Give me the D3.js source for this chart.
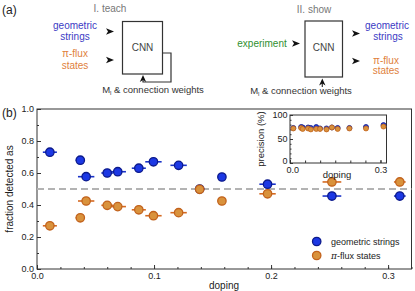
<!DOCTYPE html>
<html>
<head>
<meta charset="utf-8">
<script src="https://cdn.jsdelivr.net/npm/d3@7"></script>
<style>
  body { margin: 0; background: #fff; }
  svg { font-family: "Liberation Sans", Arial, sans-serif; }
  .axis text { font-size: 9px; fill: #222; }
  .axis line { stroke: #333; }
  .axis path { display: none; }
</style>
</head>
<body>
<svg id="chart" width="415" height="291"></svg>
<script>
// main panel data
const doping = [0.011, 0.037, 0.042, 0.060, 0.069, 0.087, 0.0995, 0.121, 0.139, 0.158, 0.197, 0.252, 0.310];
const dopingErr = [0.006, 0.004, 0.007, 0.005, 0.007, 0.006, 0.007, 0.007, 0.004, 0.003, 0.007, 0.008, 0.005];
const geomFrac = [0.73, 0.68, 0.577, 0.60, 0.608, 0.63, 0.67, 0.648, 0.50, 0.575, 0.53, 0.456, 0.456];
const fluxFrac = [0.27, 0.32, 0.425, 0.398, 0.39, 0.37, 0.333, 0.352, 0.498, 0.425, 0.47, 0.544, 0.544];

// inset data
const geomPrec = [73, 75, 74, 74, 73, 75, 72, 72, 74, 73, 73, 75, 79];
const fluxPrec = [72, 73, 71, 72, 70, 71, 71, 70, 74, 71, 72, 72, 76];

const yTicks = [0, 0.2, 0.4, 0.6, 0.8, 1.0];
const xTicks = [0, 0.1, 0.2, 0.3];
const insetYTicks = [0, 50, 100];
const insetXTicks = [0, 0.3];

const blue = { fill: "#1c38e4", stroke: "#0c1a8c", bar: "#1a33c8" };
const orange = { fill: "#d9923c", stroke: "#c2621c", bar: "#d56a22" };

const svg = d3.select("#chart");

// ---------- panel (a): schematic ----------
const a = svg.append("g");
const txt = (x, y, s, color, anchor) =>
  a.append("text").attr("x", x).attr("y", y).attr("text-anchor", anchor || "middle")
    .attr("font-size", 10).attr("fill", color).text(s);

a.append("text").attr("x", 2).attr("y", 14).attr("font-size", 12).attr("fill", "#222").text("(a)");

const arrowHead = (x, y, dir) => {
  // small filled chevron pointing right or up
  const p = dir === "up"
    ? `M${x},${y} L${x + 3.2},${y + 7} L${x},${y + 5} L${x - 3.2},${y + 7} Z`
    : `M${x},${y} L${x - 8},${y - 3.2} L${x - 6},${y} L${x - 8},${y + 3.2} Z`;
  a.append("path").attr("d", p).attr("fill", "#111");
};

// I. teach
txt(110, 12, "I. teach", "#777");
txt(75, 29, "geometric", "#3b3bc4");
txt(75, 40, "strings", "#3b3bc4");
txt(75, 57, "\u03c0-flux", "#e07f3c");
txt(75, 69, "states", "#e07f3c");
arrowHead(114, 31.5);
arrowHead(114, 60);
a.append("rect").attr("x", 122.5).attr("y", 21.5).attr("width", 40).attr("height", 52.5)
  .attr("fill", "none").attr("stroke", "#333").attr("stroke-width", 1.2);
txt(142.5, 51, "CNN", "#444");
a.append("path").attr("d", "M162.5,53 H171 V82 H143 V78")
  .attr("fill", "none").attr("stroke", "#333").attr("stroke-width", 1.2);
arrowHead(143, 75, "up");
const ml1 = a.append("text").attr("x", 153).attr("y", 93).attr("text-anchor", "middle")
  .attr("font-size", 9.5).attr("fill", "#333");
ml1.append("tspan").text("M");
ml1.append("tspan").attr("font-size", 6).attr("dy", 2).text("l");
ml1.append("tspan").attr("dy", -2).text(" & connection weights");

// II. show
txt(314, 13, "II. show", "#777");
txt(262, 47, "experiment", "#2f8f2f");
arrowHead(300, 43.5);
a.append("rect").attr("x", 305).attr("y", 21).attr("width", 37.5).attr("height", 56)
  .attr("fill", "none").attr("stroke", "#333").attr("stroke-width", 1.2);
txt(323.7, 51, "CNN", "#444");
arrowHead(360, 33.5);
arrowHead(360, 61);
txt(387, 29, "geometric", "#3b3bc4");
txt(388, 40, "strings", "#3b3bc4");
txt(386, 64, "\u03c0-flux", "#e07f3c");
txt(386, 74, "states", "#e07f3c");
a.append("line").attr("x1", 322.3).attr("x2", 322.3).attr("y1", 82).attr("y2", 87)
  .attr("stroke", "#333").attr("stroke-width", 1.2);
arrowHead(322.3, 78.5, "up");
const ml2 = a.append("text").attr("x", 301).attr("y", 94).attr("text-anchor", "middle")
  .attr("font-size", 9.5).attr("fill", "#333");
ml2.append("tspan").text("M");
ml2.append("tspan").attr("font-size", 6).attr("dy", 2).text("l");
ml2.append("tspan").attr("dy", -2).text(" & connection weights");

// ---------- panel (b): main plot ----------
const x = d3.scaleLinear().domain([0, 0.32]).range([37, 411.5]);
const y = d3.scaleLinear().domain([0, 1]).range([269, 109]);

svg.append("text").attr("x", 2).attr("y", 117).attr("font-size", 12).attr("fill", "#222").text("(b)");

svg.append("g").attr("class", "axis").attr("transform", `translate(${x(0)},0)`)
  .call(d3.axisLeft(y).tickValues(d3.range(0, 1.001, 0.1)).tickSize(-2).tickFormat(""));
svg.append("g").attr("class", "axis").attr("transform", `translate(${x(0)},0)`)
  .call(d3.axisLeft(y).tickValues(yTicks).tickSize(-4).tickFormat(d3.format(".1f")));
svg.append("g").attr("class", "axis").attr("transform", `translate(0,${y(0)})`)
  .call(d3.axisBottom(x).tickValues(d3.range(0, 0.321, 0.02)).tickSize(-2).tickFormat(""));
svg.append("g").attr("class", "axis").attr("transform", `translate(0,${y(0)})`)
  .call(d3.axisBottom(x).tickValues(xTicks).tickSize(-4).tickPadding(4).tickFormat(d3.format(".1f")));

svg.append("rect").attr("x", x(0)).attr("y", y(1))
  .attr("width", x(0.32) - x(0)).attr("height", y(0) - y(1))
  .attr("fill", "none").attr("stroke", "#333").attr("stroke-width", 1);

svg.append("text").attr("transform", `translate(13,${(y(0) + y(1)) / 2}) rotate(-90)`)
  .attr("text-anchor", "middle").attr("font-size", 10).attr("fill", "#222")
  .text("fraction detected as");
svg.append("text").attr("x", 224).attr("y", 289).attr("text-anchor", "middle")
  .attr("font-size", 10).attr("fill", "#222").text("doping");

svg.append("line").attr("x1", x(0)).attr("x2", x(0.32)).attr("y1", y(0.5)).attr("y2", y(0.5))
  .attr("stroke", "#b3b3b3").attr("stroke-width", 2).attr("stroke-dasharray", "7,4");

function drawSeries(g, xs, vals, errs, col, xs_, ys_, r) {
  if (errs) {
    g.selectAll(null).data(vals).enter().append("line")
      .attr("x1", (d, i) => xs_(xs[i] - errs[i])).attr("x2", (d, i) => xs_(xs[i] + errs[i]))
      .attr("y1", d => ys_(d)).attr("y2", d => ys_(d))
      .attr("stroke", col.bar).attr("stroke-width", 1.6);
  }
  g.selectAll(null).data(vals).enter().append("circle")
    .attr("cx", (d, i) => xs_(xs[i])).attr("cy", d => ys_(d)).attr("r", r)
    .attr("fill", col.fill).attr("stroke", col.stroke).attr("stroke-width", r > 3 ? 1.3 : 0.8);
}

const pts = svg.append("g");
drawSeries(pts, doping, geomFrac, dopingErr, blue, x, y, 4.2);
drawSeries(pts, doping, fluxFrac, dopingErr, orange, x, y, 4.2);

// legend
const legend = svg.append("g");
[["geometric strings", blue], ["\u03c0-flux states", orange]].forEach(([label, col], i) => {
  const ly = 241.5 + i * 14;
  legend.append("circle").attr("cx", 316.7).attr("cy", ly).attr("r", 4.2)
    .attr("fill", col.fill).attr("stroke", col.stroke).attr("stroke-width", 1.3);
  const t = legend.append("text").attr("x", 331).attr("y", ly + 3.3)
    .attr("font-size", 9).attr("fill", "#222");
  if (i === 1) {
    t.append("tspan").attr("font-family", "DejaVu Serif").attr("font-style", "italic").text("\u03c0");
    t.append("tspan").text("-flux states");
  } else {
    t.text(label);
  }
});

// ---------- inset ----------
const ix = d3.scaleLinear().domain([0, 0.32]).range([290, 386.5]);
const iy = d3.scaleLinear().domain([0, 100]).range([163, 115]);
const inset = svg.append("g");
inset.append("rect").attr("x", ix(0)).attr("y", iy(100))
  .attr("width", ix(0.32) - ix(0)).attr("height", iy(0) - iy(100)).attr("fill", "#fff");
inset.append("g").attr("class", "axis").attr("transform", `translate(${ix(0)},0)`)
  .call(d3.axisLeft(iy).tickValues(d3.range(0, 101, 10)).tickSize(-1.5).tickFormat(""));
const iyAxis = inset.append("g").attr("class", "axis").attr("transform", `translate(${ix(0)},0)`)
  .call(d3.axisLeft(iy).tickValues(insetYTicks).tickSize(-3).tickPadding(2.5));
iyAxis.selectAll("text").filter(d => d === 0).attr("dy", "0.1em");
inset.append("g").attr("class", "axis").attr("transform", `translate(0,${iy(0)})`)
  .call(d3.axisBottom(ix).tickValues(d3.range(0, 0.321, 0.05)).tickSize(-2.5).tickFormat(""));
const ixAxis = inset.append("g").attr("class", "axis").attr("transform", `translate(0,${iy(0)})`)
  .call(d3.axisBottom(ix).tickValues(insetXTicks).tickSize(-3).tickPadding(3.5).tickFormat(d3.format(".1f")));
ixAxis.selectAll("text").filter(d => d === 0).attr("dx", "0.25em");
inset.append("rect").attr("x", ix(0)).attr("y", iy(100))
  .attr("width", ix(0.32) - ix(0)).attr("height", iy(0) - iy(100))
  .attr("fill", "none").attr("stroke", "#333").attr("stroke-width", 1);
inset.append("text").attr("transform", `translate(264,${(iy(0) + iy(100)) / 2}) rotate(-90)`)
  .attr("text-anchor", "middle").attr("font-size", 9.5).attr("fill", "#222").text("precision (%)");
inset.append("text").attr("x", 337).attr("y", 178).attr("text-anchor", "middle")
  .attr("font-size", 9.5).attr("fill", "#222").text("doping");
drawSeries(inset, doping, geomPrec, null, blue, ix, iy, 2.5);
drawSeries(inset, doping, fluxPrec, null, orange, ix, iy, 2.5);
</script>
</body>
</html>
